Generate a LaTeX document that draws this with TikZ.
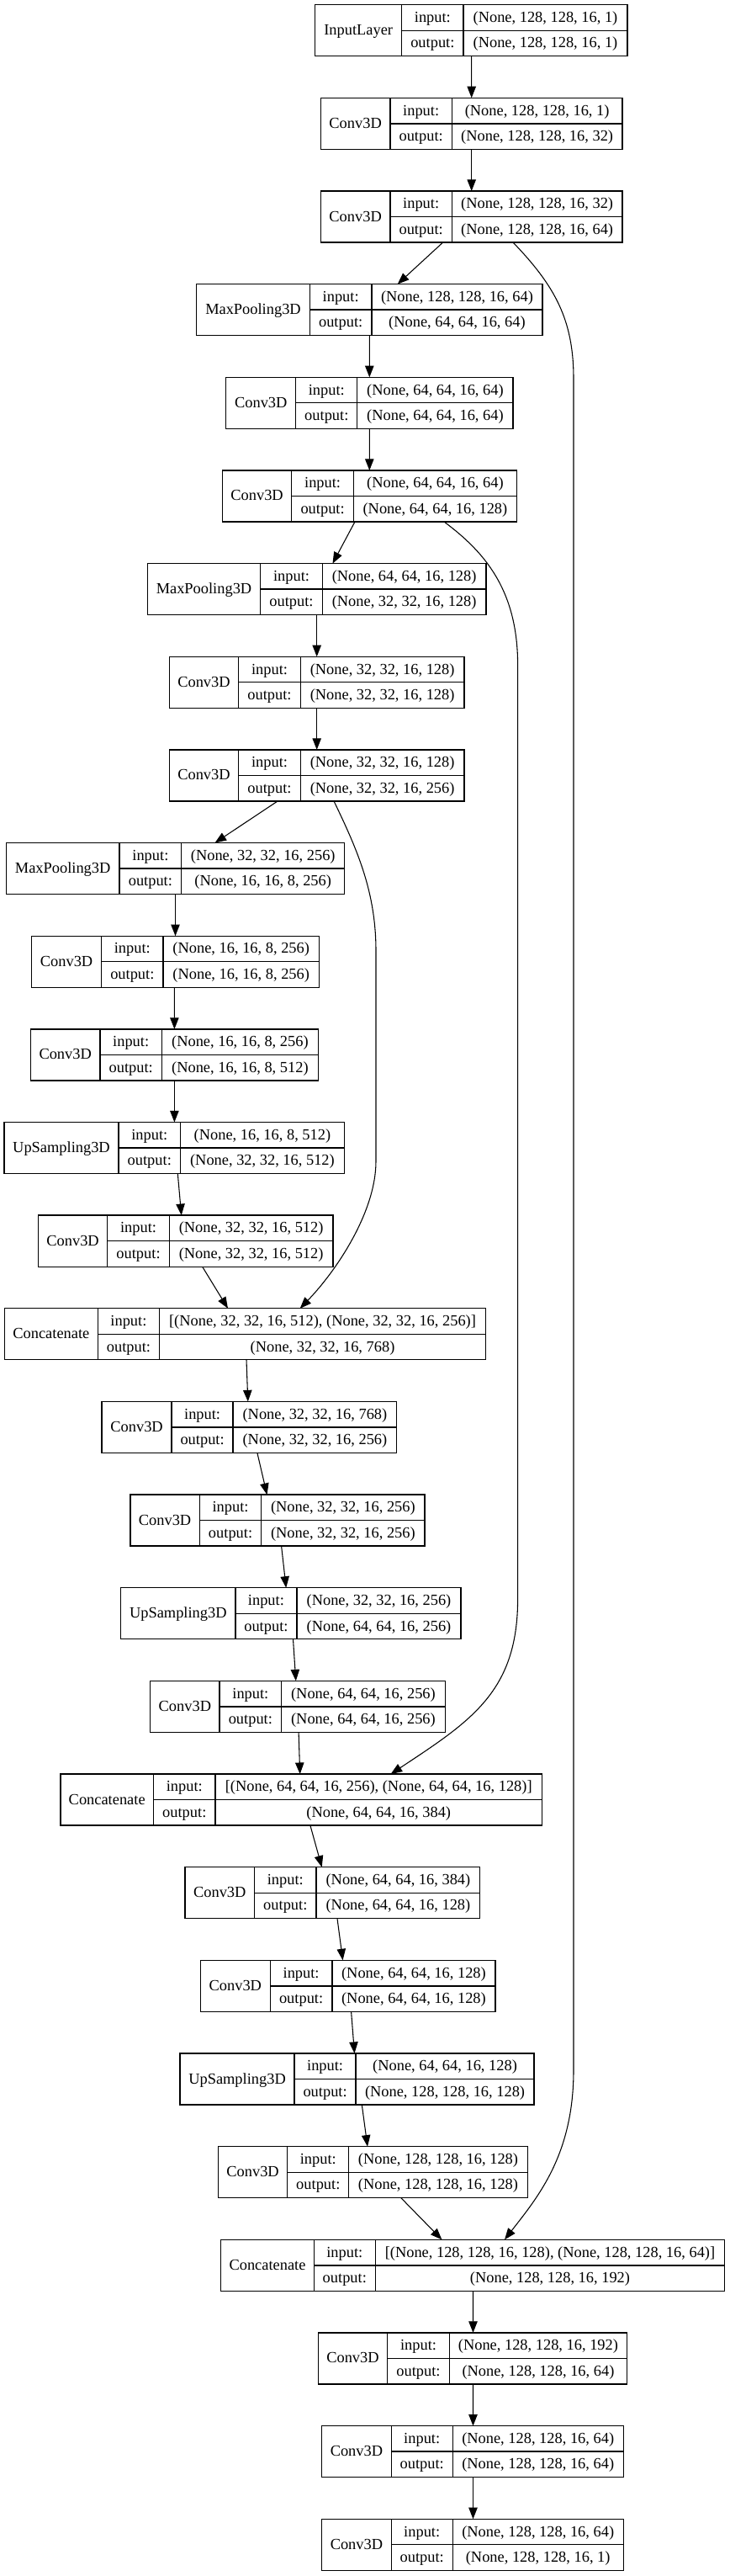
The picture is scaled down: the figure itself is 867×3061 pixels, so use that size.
\documentclass[tikz,border=0pt]{standalone}
\usepackage{fontspec}
\setmainfont{Liberation Serif}
\usetikzlibrary{arrows.meta,calc}
\tikzset{
  recbox/.style={draw, line width=1pt, inner sep=0pt, outer sep=0pt},
  cellline/.style={line width=1pt},
  txt/.style={anchor=base, inner sep=0pt, font=\fontsize{13.8}{16}\selectfont},
  edge/.style={line width=0.8pt, -{Triangle[length=10.2pt,width=7.8pt]}}
}
\newcommand\rec[9]{%
  \pgfmathsetmacro\recT{5.7+110.65*#2}%
  \pgfmathsetmacro\recB{\recT+61}%
  \pgfmathsetmacro\recM{\recT+30.5}%
  \pgfmathsetmacro\recW{(#6-#3)*0.75}%
  \node[recbox, minimum width=\recW pt, minimum height=45.75pt] (#1) at ({(#3+#6)/2},\recM) {};
  \draw[cellline] (#4,\recT) -- (#4,\recB) (#5,\recT) -- (#5,\recB) (#4,\recM) -- (#6,\recM);
  \node[txt] at ({(#3+#4)/2},{\recM+5.5}) {#7};
  \node[txt] at ({(#4+#5)/2},{\recT+20.75}) {input:};
  \node[txt] at ({(#4+#5)/2},{\recT+51.25}) {output:};
  \node[txt] at ({(#5+#6)/2},{\recT+20.75}) {#8};
  \node[txt] at ({(#5+#6)/2},{\recT+51.25}) {#9};
}
\begin{document}
\begin{tikzpicture}[x=0.75pt,y=-0.75pt]
\fill[white] (0,0) rectangle (867,3061);
\useasboundingbox (0,0) rectangle (867,3061);
\rec{n0}{0}{374.7}{477.7}{551}{746}{InputLayer}{(None, 128, 128, 16, 1)}{(None, 128, 128, 16, 1)}
\rec{n1}{1}{381.3}{464}{537.3}{740}{Conv3D}{(None, 128, 128, 16, 1)}{(None, 128, 128, 16, 32)}
\rec{n2}{2}{381.3}{464}{537.3}{740}{Conv3D}{(None, 128, 128, 16, 32)}{(None, 128, 128, 16, 64)}
\rec{n3}{3}{233.7}{368.3}{442}{644.9}{MaxPooling3D}{(None, 128, 128, 16, 64)}{(None, 64, 64, 16, 64)}
\rec{n4}{4}{268.8}{351.8}{424.8}{610.1}{Conv3D}{(None, 64, 64, 16, 64)}{(None, 64, 64, 16, 64)}
\rec{n5}{5}{264.4}{346.8}{420.4}{614.5}{Conv3D}{(None, 64, 64, 16, 64)}{(None, 64, 64, 16, 128)}
\rec{n6}{6}{175.3}{309.7}{383.3}{578}{MaxPooling3D}{(None, 64, 64, 16, 128)}{(None, 32, 32, 16, 128)}
\rec{n7}{7}{201.3}{283.7}{357.3}{552}{Conv3D}{(None, 32, 32, 16, 128)}{(None, 32, 32, 16, 128)}
\rec{n8}{8}{201.3}{283.7}{357.3}{552}{Conv3D}{(None, 32, 32, 16, 128)}{(None, 32, 32, 16, 256)}
\rec{n9}{9}{7.2}{142.1}{215.7}{409.8}{MaxPooling3D}{(None, 32, 32, 16, 256)}{(None, 16, 16, 8, 256)}
\rec{n10}{10}{37.6}{120.6}{194.1}{379.4}{Conv3D}{(None, 16, 16, 8, 256)}{(None, 16, 16, 8, 256)}
\rec{n11}{11}{36.5}{118.9}{192.5}{378.3}{Conv3D}{(None, 16, 16, 8, 256)}{(None, 16, 16, 8, 512)}
\rec{n12}{12}{5}{141}{214.6}{409.3}{UpSampling3D}{(None, 16, 16, 8, 512)}{(None, 32, 32, 16, 512)}
\rec{n13}{13}{45.4}{127.8}{201.3}{396}{Conv3D}{(None, 32, 32, 16, 512)}{(None, 32, 32, 16, 512)}
\rec{n14}{14}{5.5}{116.2}{189.7}{577.4}{Concatenate}{[(None, 32, 32, 16, 512), (None, 32, 32, 16, 256)]}{(None, 32, 32, 16, 768)}
\rec{n15}{15}{121.1}{204.1}{277.1}{471.8}{Conv3D}{(None, 32, 32, 16, 768)}{(None, 32, 32, 16, 256)}
\rec{n16}{16}{154.9}{237.3}{310.8}{505}{Conv3D}{(None, 32, 32, 16, 256)}{(None, 32, 32, 16, 256)}
\rec{n17}{17}{143.8}{279.9}{352.9}{548.1}{UpSampling3D}{(None, 32, 32, 16, 256)}{(None, 64, 64, 16, 256)}
\rec{n18}{18}{178.7}{261.1}{334.6}{529.3}{Conv3D}{(None, 64, 64, 16, 256)}{(None, 64, 64, 16, 256)}
\rec{n19}{19}{71.9}{182.5}{256.1}{644.4}{Concatenate}{[(None, 64, 64, 16, 256), (None, 64, 64, 16, 128)]}{(None, 64, 64, 16, 384)}
\rec{n20}{20}{220.1}{302.5}{376.1}{570.8}{Conv3D}{(None, 64, 64, 16, 384)}{(None, 64, 64, 16, 128)}
\rec{n21}{21}{238.4}{321.3}{394.9}{589}{Conv3D}{(None, 64, 64, 16, 128)}{(None, 64, 64, 16, 128)}
\rec{n22}{22}{214}{350.1}{423.1}{635}{UpSampling3D}{(None, 64, 64, 16, 128)}{(None, 128, 128, 16, 128)}
\rec{n23}{23}{259.4}{341.8}{414.8}{627.2}{Conv3D}{(None, 128, 128, 16, 128)}{(None, 128, 128, 16, 128)}
\rec{n24}{24}{262.7}{373.3}{446.3}{861.7}{Concatenate}{[(None, 128, 128, 16, 128), (None, 128, 128, 16, 64)]}{(None, 128, 128, 16, 192)}
\rec{n25}{25}{378.3}{460.7}{534.3}{745.6}{Conv3D}{(None, 128, 128, 16, 192)}{(None, 128, 128, 16, 64)}
\rec{n26}{26}{382.7}{465.2}{538.2}{741.2}{Conv3D}{(None, 128, 128, 16, 64)}{(None, 128, 128, 16, 64)}
\rec{n27}{27}{382.7}{465.2}{538.2}{741.2}{Conv3D}{(None, 128, 128, 16, 64)}{(None, 128, 128, 16, 1)}
% straight edges
\draw[edge] ($(n0.south west)+(186,0)$) -- ($(n1.north west)+(179.4,0)$);
\draw[edge] ($(n1.south west)+(179.4,0)$) -- ($(n2.north west)+(179.4,0)$);
\draw[edge] ($(n2.south west)+(145.4,0)$) -- ($(n3.north west)+(239,0)$);
\draw[edge] ($(n3.south west)+(205.6,0)$) -- ($(n4.north west)+(170.5,0)$);
\draw[edge] ($(n4.south west)+(170.5,0)$) -- ($(n5.north west)+(174.9,0)$);
\draw[edge] ($(n5.south west)+(157.6,0)$) -- ($(n6.north west)+(220.2,0)$);
\draw[edge] ($(n6.south west)+(201.4,0)$) -- ($(n7.north west)+(175.4,0)$);
\draw[edge] ($(n7.south west)+(175.4,0)$) -- ($(n8.north west)+(175.4,0)$);
\draw[edge] ($(n8.south west)+(128.9,0)$) -- ($(n9.north west)+(248.3,0)$);
\draw[edge] ($(n9.south west)+(201.3,0)$) -- ($(n10.north west)+(170.9,0)$);
\draw[edge] ($(n10.south west)+(169.8,0)$) -- ($(n11.north west)+(170.9,0)$);
\draw[edge] ($(n11.south west)+(170.9,0)$) -- ($(n12.north west)+(202.4,0)$);
\draw[edge] ($(n12.south west)+(206.3,0)$) -- ($(n13.north west)+(170.3,0)$);
\draw[edge] ($(n13.south west)+(195.2,0)$) -- ($(n14.north west)+(265.5,0)$);
\draw[edge] ($(n14.south west)+(287.5,0)$) -- ($(n15.north west)+(173.7,0)$);
\draw[edge] ($(n15.south west)+(184.8,0)$) -- ($(n16.north west)+(162.6,0)$);
\draw[edge] ($(n16.south west)+(179.7,0)$) -- ($(n17.north west)+(196.4,0)$);
\draw[edge] ($(n17.south west)+(204.7,0)$) -- ($(n18.north west)+(173.1,0)$);
\draw[edge] ($(n18.south west)+(176.4,0)$) -- ($(n19.north west)+(284.8,0)$);
\draw[edge] ($(n19.south west)+(297,0)$) -- ($(n20.north west)+(162.6,0)$);
\draw[edge] ($(n20.south west)+(180.9,0)$) -- ($(n21.north west)+(169.2,0)$);
\draw[edge] ($(n21.south west)+(179.2,0)$) -- ($(n22.north west)+(207.5,0)$);
\draw[edge] ($(n22.south west)+(216.3,0)$) -- ($(n23.north west)+(177.6,0)$);
\draw[edge] ($(n23.south west)+(217.4,0)$) -- ($(n24.north west)+(262.7,0)$);
\draw[edge] ($(n24.south west)+(299.8,0)$) -- ($(n25.north west)+(184.2,0)$);
\draw[edge] ($(n25.south west)+(184.2,0)$) -- ($(n26.north west)+(179.8,0)$);
\draw[edge] ($(n26.south west)+(179.8,0)$) -- ($(n27.north west)+(179.8,0)$);
% skip connections
\draw[edge] ($(n2.south west)+(228.7,0)$) .. controls (660,340) and (682,380) .. (682,450) -- (682,2460) .. controls (682,2560) and (640,2610) .. ($(n24.north west)+(337.3,0)$);
\draw[edge] ($(n5.south west)+(263.6,0)$) .. controls (575,655) and (615.6,700) .. (615.6,790) -- (615.6,1900) .. controls (615.6,2010) and (560,2045) .. ($(n19.north west)+(392.7,0)$);
\draw[edge] ($(n8.south west)+(195.7,0)$) .. controls (425,1010) and (447,1060) .. (447,1130) -- (447,1380) .. controls (447,1440) and (400,1510) .. ($(n14.north west)+(351.2,0)$);
\end{tikzpicture}
\end{document}
